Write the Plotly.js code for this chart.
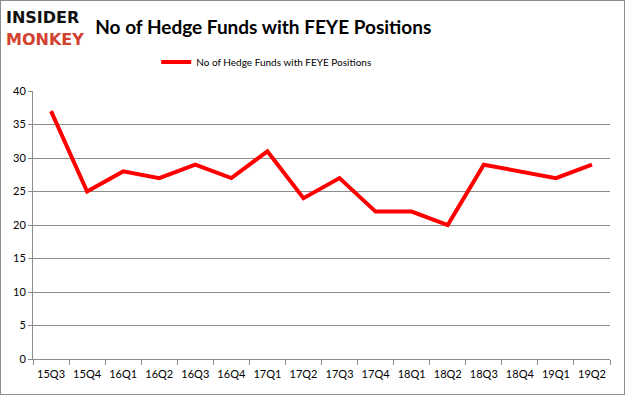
<!DOCTYPE html>
<html>
<head>
<meta charset="utf-8">
<script src="https://cdn.plot.ly/plotly-3.0.1.min.js"></script>
<style>
html,body{margin:0;padding:0;background:#fff;}
#chart{width:625px;height:395px;box-sizing:border-box;border:1px solid #8c8c8c;}
</style>
</head>
<body>
<div id="chart"></div>
<script>
const quarters = ["15Q3","15Q4","16Q1","16Q2","16Q3","16Q4","17Q1","17Q2","17Q3","17Q4","18Q1","18Q2","18Q3","18Q4","19Q1","19Q2"];
const hedgeFunds = [37,25,28,27,29,27,31,24,27,22,22,20,29,28,27,29];
const yTicks = [0,5,10,15,20,25,30,35,40];
const seriesName = "No of Hedge Funds with FEYE Positions";

const trace = {
  x: quarters,
  y: hedgeFunds,
  type: "scatter",
  mode: "lines",
  name: seriesName,
  line: {color: "#ff0000", width: 4, shape: "linear"}
};

const layout = {
  width: 623,
  height: 393,
  margin: {l: 32, r: 14, t: 90, b: 35},
  paper_bgcolor: "#ffffff",
  plot_bgcolor: "#ffffff",
  font: {family: "Lato, 'Open Sans', sans-serif", size: 11, color: "#000"},
  title: {
    text: "<b>No of Hedge Funds with FEYE Positions</b>",
    font: {family: "Lato, 'Open Sans', sans-serif", size: 19, color: "#000"},
    x: 0.421, xanchor: "center", y: 0.934, yanchor: "middle"
  },
  showlegend: true,
  legend: {
    orientation: "h",
    x: 0.405, xanchor: "center",
    y: 1.108, yanchor: "middle",
    font: {size: 10, color: "#000"},
    itemwidth: 30
  },
  xaxis: {
    type: "category",
    range: [-0.5, quarters.length - 0.5],
    showgrid: false,
    showline: true,
    linecolor: "#8c8c8c",
    linewidth: 1,
    ticks: "outside",
    tickson: "boundaries",
    ticklen: 5,
    tickcolor: "#8c8c8c",
    tickangle: 0,
    ticklabelstandoff: 5,
    tickfont: {size: 11, color: "#000"},
    fixedrange: true
  },
  yaxis: {
    range: [0, 40],
    tickvals: yTicks,
    showgrid: true,
    gridcolor: "#8c8c8c",
    gridwidth: 1,
    showline: true,
    linecolor: "#8c8c8c",
    ticks: "outside",
    ticklen: 4,
    tickcolor: "#8c8c8c",
    tickfont: {size: 11, color: "#000"},
    zeroline: false,
    fixedrange: true
  },
  annotations: [
    {text: "<b>INSIDER</b>", xref: "paper", yref: "paper", x: -0.05, y: 1.276, xanchor: "left", yanchor: "middle",
     showarrow: false, font: {family: "'DejaVu Sans', sans-serif", size: 16, color: "#111"}},
    {text: "<b>MONKEY</b>", xref: "paper", yref: "paper", x: -0.05, y: 1.194, xanchor: "left", yanchor: "middle",
     showarrow: false, font: {family: "'DejaVu Sans', sans-serif", size: 16, color: "#d2412f"}}
  ]
};

Plotly.newPlot("chart", [trace], layout, {displayModeBar: false, staticPlot: true});
</script>
</body>
</html>
